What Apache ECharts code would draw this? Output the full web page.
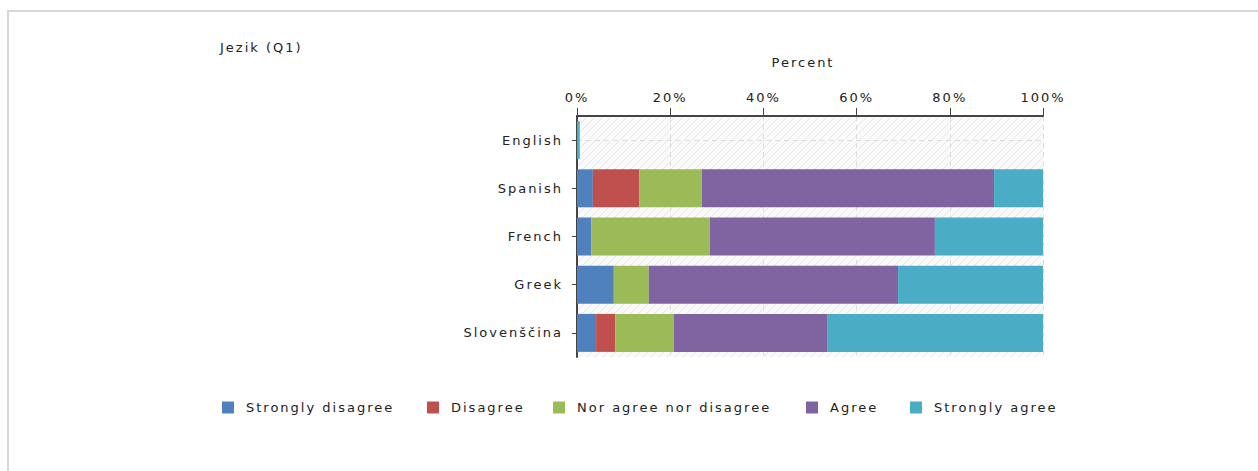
<!DOCTYPE html>
<html>
<head>
<meta charset="utf-8">
<script src="https://cdn.jsdelivr.net/npm/echarts@6/dist/echarts.min.js"></script>
<style>
html,body{margin:0;padding:0;background:#fff;}
#chart{width:1258px;height:471px;}
#chart text{letter-spacing:2px;}
</style>
</head>
<body>
<div id="chart"></div>
<script>
const categories = ['English', 'Spanish', 'French', 'Greek', 'Slovenščina'];
const seriesNames = ['Strongly disagree', 'Disagree', 'Nor agree nor disagree', 'Agree', 'Strongly agree'];
const stronglyDisagree = [0, 3.4, 3.1, 7.9, 4.1];
const disagree = [0, 10.0, 0, 0, 4.1];
const neutral = [0, 13.4, 25.4, 7.5, 12.6];
const agree = [0, 62.7, 48.3, 53.5, 33.0];
const stronglyAgree = [0.6, 10.5, 23.2, 31.1, 46.2];

const colors = ['#4f81bd', '#c0504d', '#9bbb59', '#8064a2', '#4bacc6'];
const values = [stronglyDisagree, disagree, neutral, agree, stronglyAgree];
const legendLefts = [222, 427, 553, 806, 910];

// hatched background pattern
const pc = document.createElement('canvas');
pc.width = 8; pc.height = 8;
const pctx = pc.getContext('2d');
pctx.fillStyle = '#fafafa';
pctx.fillRect(0, 0, 8, 8);
pctx.strokeStyle = '#e6e6e6';
pctx.lineWidth = 1;
pctx.beginPath();
pctx.moveTo(0, 8); pctx.lineTo(8, 0);
pctx.moveTo(-4, 4); pctx.lineTo(4, -4);
pctx.moveTo(4, 12); pctx.lineTo(12, 4);
pctx.stroke();
const patternUrl = pc.toDataURL();

const font = 'DejaVu Sans';
const textColor = '#222';
const chart = echarts.init(document.getElementById('chart'), null, { renderer: 'svg' });
chart.setOption({
  animation: false,
  textStyle: { fontFamily: font },
  title: {
    text: 'Jezik (Q1)',
    left: 215, top: 36,
    textStyle: { fontFamily: font, fontSize: 13, fontWeight: 'normal', color: textColor }
  },
  graphic: [{
    type: 'rect', silent: true, z: -10,
    shape: { x: 8, y: 11, width: 1400, height: 600 },
    style: { fill: 'none', stroke: '#d6d6d6', lineWidth: 2 }
  }],
  legend: seriesNames.map((n, i) => ({
    left: legendLefts[i] - 5, top: 396,
    icon: 'rect', itemWidth: 12, itemHeight: 12,
    textStyle: { fontFamily: font, fontSize: 13, color: textColor, padding: [0, 0, 0, 7] },
    data: [n]
  })),
  grid: {
    left: 577, top: 116, width: 466, height: 241,
    show: true, borderWidth: 0,
    backgroundColor: { image: patternUrl, repeat: 'repeat' }
  },
  xAxis: {
    type: 'value', position: 'top', min: 0, max: 100, interval: 20,
    name: 'Percent', nameLocation: 'middle', nameGap: 47,
    nameTextStyle: { fontFamily: font, fontSize: 13, color: textColor, padding: [0, 14, 0, 0] },
    axisLine: { show: true, lineStyle: { color: '#444', width: 2 } },
    axisTick: { show: true, length: 8, lineStyle: { color: '#444' } },
    axisLabel: { formatter: '{value}%', margin: 12, fontSize: 13, color: textColor, fontFamily: font },
    splitLine: { show: true, lineStyle: { color: '#dcdcdc', type: [5, 4] } }
  },
  yAxis: {
    type: 'category', inverse: true, data: categories,
    axisLine: { show: true, lineStyle: { color: '#444', width: 2 } },
    axisTick: { show: true, length: 5, alignWithLabel: true, lineStyle: { color: '#444' } },
    axisLabel: { margin: 14, fontSize: 13, color: textColor, fontFamily: font },
    splitLine: { show: true, alignWithLabel: true, lineStyle: { color: '#dcdcdc', type: [5, 4] } }
  },
  series: seriesNames.map((n, i) => ({
    name: n, type: 'bar', stack: 'total', barWidth: 38,
    itemStyle: { color: colors[i] },
    data: values[i]
  }))
});
</script>
</body>
</html>
